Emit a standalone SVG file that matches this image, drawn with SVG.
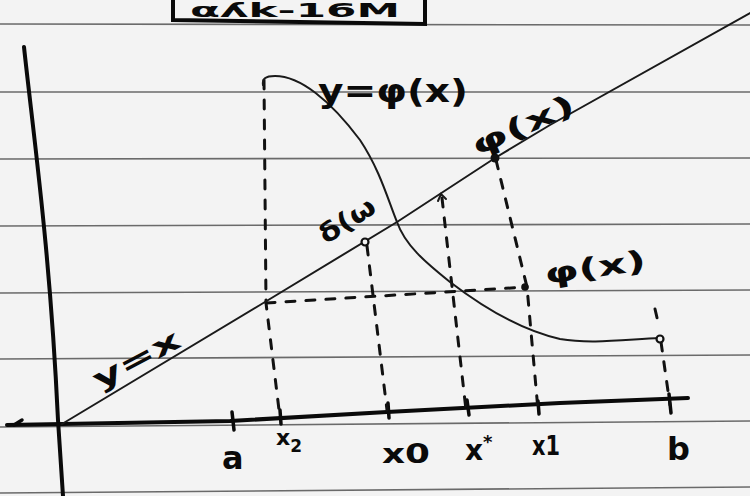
<svg xmlns="http://www.w3.org/2000/svg" width="750" height="496" viewBox="0 0 750 496">
<style>
.rule{stroke:#6a6a6a;stroke-width:1.6;fill:none}
.axis{stroke:#0a0a0a;stroke-width:4;fill:none;stroke-linecap:round}
.thin{stroke:#1a1a1a;stroke-width:2;fill:none;stroke-linecap:round}
.dash{stroke:#111;stroke-width:3;fill:none;stroke-dasharray:9 11;stroke-linecap:round}
.tick{stroke:#0a0a0a;stroke-width:3.5;fill:none;stroke-linecap:round}
.lbl{font-family:"DejaVu Sans","Liberation Sans",sans-serif;fill:#0a0a0a;font-weight:bold}
</style>
<rect width="750" height="496" fill="#f3f3f3"/>
<g id="paper">
<line class="rule" x1="0" y1="24" x2="750" y2="25"/>
<line class="rule" x1="0" y1="92" x2="750" y2="92"/>
<line class="rule" x1="0" y1="159" x2="750" y2="158"/>
<line class="rule" x1="0" y1="226" x2="750" y2="224"/>
<line class="rule" x1="0" y1="293" x2="750" y2="290"/>
<line class="rule" x1="0" y1="359" x2="750" y2="355"/>
<line class="rule" x1="0" y1="427" x2="750" y2="421"/>
<line class="rule" x1="0" y1="493" x2="750" y2="487"/>
</g>
<g id="title-box">
<path class="axis" d="M173,-2 L173,20 L300,22 L425,24 L425,-2" stroke-width="3.5"/>
<text class="lbl" x="190" y="17" font-size="19" textLength="210" lengthAdjust="spacingAndGlyphs">αʎk-16M</text>
</g>
<g id="axes">
<path class="axis" d="M24,47 C34,140 50,250 58,420 L63,496"/>
<path class="axis" d="M7,425 L230,421 L387,412 L560,403 L688,398"/>
<path class="tick" d="M22,420 L14,425"/>
</g>
<g id="ticks">
<line class="tick" x1="232" y1="412" x2="234" y2="430"/>
<line class="tick" x1="280" y1="410" x2="281" y2="424"/>
<line class="tick" x1="388" y1="403" x2="389" y2="418"/>
<line class="tick" x1="467" y1="400" x2="469" y2="415"/>
<line class="tick" x1="538" y1="401" x2="539" y2="414"/>
<line class="tick" x1="669" y1="394" x2="671" y2="413"/>
</g>
<g id="connectors">
<path class="dash" d="M264,80 L266,303 L280,418"/>
<path class="dash" d="M266,303 L380,296 L527,287"/>
<path class="dash" d="M367,246 L387,410"/>
<path class="dash" d="M442,198 L466,410"/>
<path class="dash" d="M496,160 L527,287 L538,410"/>
<path class="dash" d="M661,342 L670,405"/>
<path class="dash" d="M655,309 L658,322" stroke-width="2"/>
<path class="thin" d="M438,201 L441,194 L446,199"/>
</g>
<g id="line-y-eq-x">
<path class="thin" d="M62,424 L260,305 L397,222 L495,158 L550,125 L750,13"/>
</g>
<g id="curve-phi">
<path class="thin" d="M263,85 C262,79 265,76 275,76 C300,76 330,100 360,140 C380,170 388,200 397,222 C405,245 425,262 450,282 C480,305 520,330 560,339 C590,344 620,340 660,338"/>
</g>
<g id="points">
<circle cx="365" cy="242" r="3.5" fill="#f3f3f3" stroke="#111" stroke-width="2.2"/>
<circle cx="495" cy="158" r="4.5" fill="#111"/>
<circle cx="525" cy="287" r="3.8" fill="#111"/>
<circle cx="660" cy="339" r="3.5" fill="#f3f3f3" stroke="#111" stroke-width="2.2"/>
</g>
<g id="labels">
<text class="lbl" x="318" y="102" font-size="32" textLength="150" lengthAdjust="spacingAndGlyphs">y=φ(x)</text>
<text class="lbl" font-size="28" text-anchor="middle" transform="translate(527,134) rotate(-24)" textLength="110" lengthAdjust="spacingAndGlyphs">φ(x)</text>
<text class="lbl" font-size="28" transform="translate(546,284) rotate(-8)" textLength="102" lengthAdjust="spacingAndGlyphs">φ(x)</text>
<text class="lbl" font-size="26" text-anchor="middle" transform="translate(352,228) rotate(-33)" textLength="62" lengthAdjust="spacingAndGlyphs">δ(ω</text>
<text class="lbl" font-size="28" text-anchor="middle" transform="translate(141,368) rotate(-28)" textLength="95" lengthAdjust="spacingAndGlyphs">y=x</text>
<text class="lbl" x="222" y="469" font-size="32">a</text>
<text class="lbl" x="276" y="445" font-size="22">x<tspan font-size="17" dy="7">2</tspan></text>
<text class="lbl" x="382" y="463" font-size="26" textLength="48" lengthAdjust="spacingAndGlyphs">x0</text>
<text class="lbl" x="465" y="460" font-size="28">x<tspan font-size="18" dy="-12">*</tspan></text>
<text class="lbl" x="532" y="455" font-size="26" textLength="28" lengthAdjust="spacingAndGlyphs">x1</text>
<text class="lbl" x="667" y="460" font-size="32">b</text>
</g>
</svg>
